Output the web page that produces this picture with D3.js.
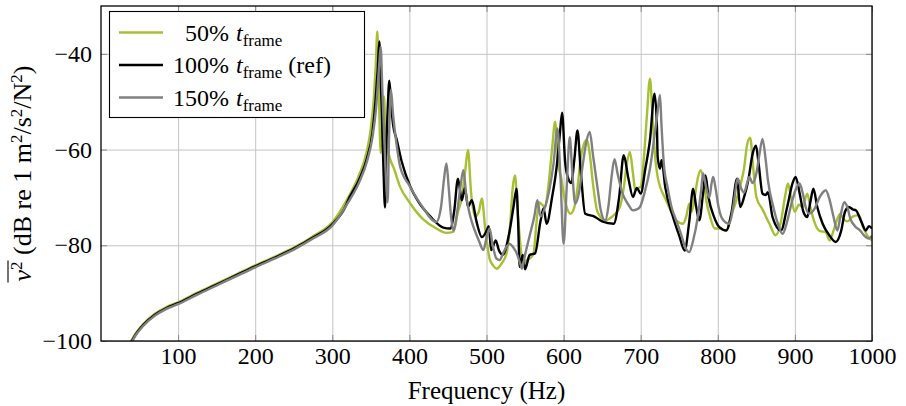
<!DOCTYPE html>
<html lang="en">
<head>
  <meta charset="UTF-8">
  <title>Mean square velocity vs frequency</title>
  <script src="https://d3js.org/d3.v7.min.js"></script>
  <style>
    body { margin: 0; background: white; }
    #chart text { font-family: "Liberation Serif", "DejaVu Serif", serif !important; fill: black; }
  </style>
</head>
<body>
<svg id="chart" width="906" height="406"></svg>
<script>
  // ---- values ----
  const xTicks = [100, 200, 300, 400, 500, 600, 700, 800, 900, 1000];
  const yTicks = [-40, -60, -80, -100];
  const legendPercents = ["50%", "100%", "150%"];
  const legendSuffix = ["", " (ref)", ""];

  // 50% frame time (green)
  const freq50 = [38,45,55,70,85,100,125,150,175,200,225,250,275,300,320,335,345,350,354,356.5,358.4,360,362.8,365,367,369,372,375,380,388,400,418,435,448,457,463,468,472,476,480,485,490,494,498,504,509,513,520,526,531,534,537,540,544,547,553,558,561,565,568,572,576,580,585,589,593,597,601,605,609,614,618,622,626,630,634,638,644,654,663,673,678,682,686,690,693,697,700,704,708,712,715,718,722,733,746,755,759,763,766,770,774,778,782,785,790,796,802,811,817,824,830,834,838,842,846,850,858,867,875,882,887,891,895,900,905,910,916,920,925,932,940,945,950,955,959,963,968,975,983,988,994,1000];
  const level50 = [-100.3,-98.4,-96.4,-94.3,-92.9,-91.9,-89.9,-88.0,-86.1,-84.2,-82.4,-80.5,-78.1,-75.2,-70.2,-65.2,-60.2,-55.5,-49,-42,-35.3,-45,-60.7,-55,-48.9,-56,-60,-62,-64,-67.8,-71,-74.6,-76.5,-77.4,-77.2,-73,-70,-65,-60.1,-69,-74,-73,-70.2,-76,-82.8,-84.3,-84.9,-83.7,-81.7,-75,-68,-65.4,-72,-80,-83.8,-83,-82.5,-81.7,-75,-71,-71.5,-72,-68,-60,-54.2,-62.9,-66,-70,-72.5,-73.4,-72,-68,-62,-59,-58,-61,-67,-73,-74.8,-74,-72,-68,-63,-60.5,-65,-68.5,-68,-67.8,-62,-53,-45.2,-52,-60,-65.7,-70.6,-74.8,-75.5,-74,-71.3,-73,-70,-66,-64.3,-67,-70.6,-74,-76.5,-76.5,-76.9,-74,-70.6,-67,-64,-59,-57.5,-64,-69.9,-72.5,-75.5,-77.9,-75,-70,-67.1,-70,-73,-71.5,-72,-69.2,-72,-75,-77,-77.3,-79,-77,-74.5,-73.4,-74.5,-75,-74,-73.7,-76,-78,-79];

  // 100% frame time, reference (black)
  const freq100 = [38,45,55,70,85,100,125,150,175,200,225,250,275,300,318,320,335,345,352,356,359,361,363,366,368.4,370,372,374,376,379,383.5,390,400.8,412,426.7,444,453,458,463,468,472,476,481,487,494,500,503,506,512,516,521,530,535,539,541,543,547,550,556,563,570,574,578,585,591,595,598,602,606,610,614,618,622,628,640,650,665,672,678,684,690,695,700,706,712,718,721,722,725,727,732,742,750,757,763,768,772,776,781,784,788,795,802,811,818,825,829,834,840,845,849.5,853,858,862,865,871,882,890,897,901,906,911,916,920,924,929,936,945,953,960,965,970,975,979,986,992,996,1000];
  const level100 = [-100.6,-98.6,-96.6,-94.5,-93.1,-92.1,-90.1,-88.2,-86.3,-84.4,-82.6,-80.7,-78.4,-75.6,-71.6,-70.8,-66.2,-61.8,-56.5,-50,-43,-37.4,-46,-62,-72.1,-60,-51,-45.6,-50,-55,-57.9,-62.5,-67.6,-71,-73.9,-76.3,-76.5,-73,-66.1,-70.6,-68,-72,-70.6,-75,-78.3,-77,-76,-81,-79,-81,-82,-77,-72,-68.2,-75,-84.5,-82,-85,-82,-81.7,-75,-72.3,-75.5,-70,-63.6,-57,-52.3,-62.6,-66,-67,-62,-56,-64,-73.4,-74,-75,-75.5,-70,-61.2,-66,-69.9,-68,-69.2,-64,-58,-48.3,-55,-61.5,-64,-62.2,-68,-74.1,-78,-81.1,-75,-68.2,-72,-74.8,-69,-65.4,-70,-74,-76.2,-76.9,-73,-66.1,-72,-70,-66,-61,-59.2,-63,-69.2,-69.5,-68.9,-74.1,-76.9,-72,-67,-65.7,-69,-73,-74.1,-71,-68.2,-72,-75.5,-78,-79.3,-77,-73,-72,-72.5,-72.7,-75,-76.9,-76,-76.5];

  // 150% frame time (grey)
  const freq150 = [38,45,55,70,85,100,125,150,175,200,225,250,275,300,320,335,345,352,357,360.5,362.7,365,368,371.8,373.5,376,379,383,388,400,415,435,441,445,448,451,454,457,462,466,470,474,479,485,490,496,500,504,508,513,517,522,526,530,535,540,544,546,550,556,562,566,570,576,582,587,592,596,600,604,608,611,615,620,625,630,634,638,644,648,654,658,662,666,670,676,684,690,695,699,705,712,718,722,725,727,730,735,740,746,752,758,763,768,774,778,781,785,789,792,794,797,801,806,815,820,826,830,834,838,841,845,850,854,858,862,865,872,878,884,890,896,902,906,910,914,918,925,932,936,940,945,950,955,959,964,968,972,978,985,990,996,1000];
  const level150 = [-100.8,-98.8,-96.8,-94.7,-93.3,-92.3,-90.3,-88.4,-86.5,-84.6,-82.8,-80.9,-78.6,-75.9,-71.2,-66.8,-62.5,-57.5,-51,-43,-38.5,-48,-60,-71,-58,-47.5,-53,-58.5,-63.6,-67.5,-71.5,-75.1,-72,-66,-62.9,-68,-74,-76.9,-73,-68,-64.3,-70,-74,-77,-79,-81,-78.5,-76.5,-80,-82.8,-83.1,-81.5,-80.3,-79.7,-80.5,-82,-84,-84.9,-82,-78,-74,-70.6,-74,-72,-68,-62.9,-55.6,-66,-79.7,-68,-57.4,-64,-71.3,-69,-63,-58,-56.3,-61,-68,-72.5,-74.8,-72,-66,-62,-65,-69,-71.5,-72.7,-72.5,-72,-69,-64,-57,-52,-48.6,-55,-63,-68,-72,-74.8,-77.5,-80.5,-81.4,-79,-74.1,-69,-65,-68,-70,-67,-65.7,-68,-72,-74.5,-75.5,-72,-66.1,-68,-69,-67,-65.7,-67,-65,-61,-57.8,-62,-66.4,-72,-75.5,-77.6,-75,-71,-68,-67.1,-69,-72,-73.4,-72.5,-70,-69,-68.5,-70.5,-74,-76.9,-74,-71,-72,-74.5,-76,-77,-78,-78.6,-78];

  const series = [
    { color: "#a6c034", freq: freq50,  level: level50 },
    { color: "#000000", freq: freq100, level: level100 },
    { color: "#808080", freq: freq150, level: level150 }
  ];

  // ---- layout ----
  const svg = d3.select("#chart");
  const plotLeft = 101, plotRight = 872, plotTop = 6, plotBottom = 341;

  const x = d3.scaleLinear().domain([0, 1000]).range([plotLeft, plotRight]);
  const y = d3.scaleLinear().domain([-100, -30]).range([plotBottom, plotTop]);

  // grid lines
  svg.append("g")
    .attr("transform", `translate(0,${plotBottom})`)
    .call(d3.axisBottom(x).tickValues(xTicks).tickSize(-(plotBottom - plotTop)).tickFormat(""))
    .call(g => g.select(".domain").remove())
    .call(g => g.selectAll("line").attr("stroke", "#c4c4c4").attr("stroke-width", 1));
  svg.append("g")
    .attr("transform", `translate(${plotLeft},0)`)
    .call(d3.axisLeft(y).tickValues(yTicks).tickSize(-(plotRight - plotLeft)).tickFormat(""))
    .call(g => g.select(".domain").remove())
    .call(g => g.selectAll("line").attr("stroke", "#c4c4c4").attr("stroke-width", 1));

  // inside ticks on all four sides
  const tickLen = 6;
  const fmt = d => d < 0 ? "\u2212" + Math.abs(d) : d;
  svg.append("g")
    .attr("transform", `translate(0,${plotBottom})`)
    .call(d3.axisBottom(x).tickValues(xTicks).tickSize(-tickLen).tickPadding(6).tickFormat(fmt))
    .attr("font-family", null)
    .call(g => g.select(".domain").remove())
    .call(g => g.selectAll("line").attr("stroke", "#888"))
    .call(g => g.selectAll("text").attr("font-size", 24));
  svg.append("g")
    .attr("transform", `translate(0,${plotTop})`)
    .call(d3.axisTop(x).tickValues(xTicks).tickSize(-tickLen).tickFormat(""))
    .call(g => g.select(".domain").remove())
    .call(g => g.selectAll("line").attr("stroke", "#888"));
  svg.append("g")
    .attr("transform", `translate(${plotLeft},0)`)
    .call(d3.axisLeft(y).tickValues(yTicks).tickSize(-tickLen).tickPadding(9).tickFormat(fmt))
    .attr("font-family", null)
    .call(g => g.select(".domain").remove())
    .call(g => g.selectAll("line").attr("stroke", "#888"))
    .call(g => g.selectAll("text").attr("font-size", 24));
  svg.append("g")
    .attr("transform", `translate(${plotRight},0)`)
    .call(d3.axisRight(y).tickValues(yTicks).tickSize(-tickLen).tickFormat(""))
    .call(g => g.select(".domain").remove())
    .call(g => g.selectAll("line").attr("stroke", "#888"));

  // curves, clipped to the axis box
  svg.append("clipPath").attr("id", "plotclip")
    .append("rect").attr("x", plotLeft).attr("y", plotTop)
    .attr("width", plotRight - plotLeft).attr("height", plotBottom - plotTop);

  const line = d3.line()
    .x(d => x(d[0]))
    .y(d => y(d[1]))
    .curve(d3.curveMonotoneX);

  const plot = svg.append("g").attr("clip-path", "url(#plotclip)");
  series.forEach(s => {
    plot.append("path")
      .datum(d3.zip(s.freq, s.level))
      .attr("d", line)
      .attr("fill", "none")
      .attr("stroke", s.color)
      .attr("stroke-width", 2.4)
      .attr("stroke-linejoin", "round");
  });

  // axis box
  svg.append("rect")
    .attr("x", plotLeft).attr("y", plotTop)
    .attr("width", plotRight - plotLeft).attr("height", plotBottom - plotTop)
    .attr("fill", "none").attr("stroke", "black").attr("stroke-width", 1.3);

  // x label
  svg.append("text")
    .attr("x", (plotLeft + plotRight) / 2).attr("y", 399)
    .attr("text-anchor", "middle").attr("font-size", 25)
    .text("Frequency (Hz)");

  // y label: overline(v^2) (dB re 1 m^2/s^2/N^2)
  const yl = svg.append("g").attr("transform", `translate(31,${(plotTop + plotBottom) / 2}) rotate(-90)`);
  const ylText = yl.append("text").attr("text-anchor", "middle").attr("font-size", 26);
  ylText.append("tspan").attr("font-style", "italic").text("v");
  ylText.append("tspan").attr("dy", -9).attr("font-size", 17).text("2");
  ylText.append("tspan").attr("dy", 9).text(" (dB re 1 m");
  ylText.append("tspan").attr("dy", -9).attr("font-size", 17).text("2");
  ylText.append("tspan").attr("dy", 9).text("/s");
  ylText.append("tspan").attr("dy", -9).attr("font-size", 17).text("2");
  ylText.append("tspan").attr("dy", 9).text("/N");
  ylText.append("tspan").attr("dy", -9).attr("font-size", 17).text("2");
  ylText.append("tspan").attr("dy", 9).text(")");
  const total = ylText.node().getComputedTextLength();
  const barLen = ylText.node().getSubStringLength(0, 2);
  yl.append("line")
    .attr("x1", -total / 2 - 1).attr("x2", -total / 2 + barLen + 1)
    .attr("y1", -23).attr("y2", -23)
    .attr("stroke", "black").attr("stroke-width", 1.1);

  // legend
  const lg = svg.append("g");
  lg.append("rect")
    .attr("x", 109.5).attr("y", 11.5).attr("width", 255).attr("height", 106)
    .attr("fill", "white").attr("stroke", "black").attr("stroke-width", 1.1);
  const rowY = [32.5, 65, 97.5];
  series.forEach((s, i) => {
    lg.append("line")
      .attr("x1", 119).attr("x2", 163)
      .attr("y1", rowY[i]).attr("y2", rowY[i])
      .attr("stroke", s.color).attr("stroke-width", 2.6);
    lg.append("text")
      .attr("x", 229).attr("y", rowY[i] + 8)
      .attr("text-anchor", "end").attr("font-size", 24)
      .text(legendPercents[i]);
    const t = lg.append("text").attr("x", 236).attr("y", rowY[i] + 8).attr("font-size", 24);
    t.append("tspan").attr("font-style", "italic").text("t");
    t.append("tspan").attr("dy", 5).attr("font-size", 17).text("frame");
    if (legendSuffix[i]) t.append("tspan").attr("dy", -5).text(legendSuffix[i]);
  });
</script>
</body>
</html>
